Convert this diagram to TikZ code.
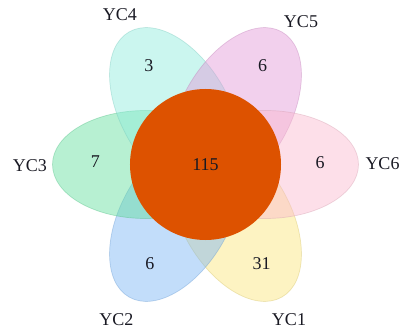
\documentclass[tikz,border=0pt]{standalone}
\usepackage{fontspec}
\setmainfont{Liberation Serif}
\usepackage{xcolor}
\usetikzlibrary{positioning,calc}

\definecolor{petalA}{RGB}{250,228,120}
\definecolor{petalB}{RGB}{120,180,245}
\definecolor{petalC}{RGB}{95,222,155}
\definecolor{petalD}{RGB}{140,235,220}
\definecolor{petalE}{RGB}{226,150,215}
\definecolor{petalF}{RGB}{250,185,206}
\definecolor{coreorange}{RGB}{221,82,0}
\definecolor{inktext}{RGB}{25,25,35}

\tikzset{
	petal/.style={line width=0.7pt, fill opacity=0.45, draw opacity=0.4},
	setlabel/.style={text=inktext, inner sep=1pt},
	count/.style={text=inktext, inner sep=1pt}
}

\begin{document}
\begin{tikzpicture}[x=1pt, y=1pt, font=\fontsize{18}{20}\selectfont]
			\useasboundingbox (-205.5,-164.5) rectangle (195.5,164.5);
			\coordinate (center) at (0,0);
			\def\dist{60}

			% petal centres
			\path (center) ++(-60:\dist) coordinate (P1);
			\path (center) ++(-120:\dist) coordinate (P2);
			\path (center) ++(180:\dist) coordinate (P3);
			\path (center) ++(120:\dist) coordinate (P4);
			\path (center) ++(60:\dist) coordinate (P5);
			\path (center) ++(0:\dist) coordinate (P6);

			% petals
			\draw[petal, draw=petalA!85!black, fill=petalA, rotate around={-60:(P1)}] (P1) ellipse [x radius=93pt, y radius=54pt];
			\draw[petal, draw=petalB!85!black, fill=petalB, rotate around={-120:(P2)}] (P2) ellipse [x radius=93pt, y radius=54pt];
			\draw[petal, draw=petalC!85!black, fill=petalC, rotate around={180:(P3)}] (P3) ellipse [x radius=93pt, y radius=54pt];
			\draw[petal, draw=petalD!85!black, fill=petalD, rotate around={120:(P4)}] (P4) ellipse [x radius=93pt, y radius=54pt];
			\draw[petal, draw=petalE!85!black, fill=petalE, rotate around={60:(P5)}] (P5) ellipse [x radius=93pt, y radius=54pt];
			\draw[petal, draw=petalF!85!black, fill=petalF, rotate around={0:(P6)}] (P6) ellipse [x radius=93pt, y radius=54pt];

			% shared core
			\node[circle, fill=coreorange, minimum size=151pt, inner sep=0pt, text=inktext] (core) at (center) {115};

			% counts
			\node[count] (n1) at (56,-99) {31};
			\node[count] (n2) at (-55.5,-99) {6};
			\node[count] (n3) at (-110,3) {7};
			\node[count] (n4) at (-56.5,98.5) {3};
			\node[count] (n5) at (57,98.5) {6};
			\node[count] (n6) at (114.5,2) {6};

			% set names
			\node[setlabel] (yc1) at (83.5,-155.5) {YC1};
			\node[setlabel] (yc2) at (-89,-155.5) {YC2};
			\node[setlabel] (yc3) at (-175.5,-1.5) {YC3};
			\node[setlabel] (yc4) at (-85.5,149.5) {YC4};
			\node[setlabel] (yc5) at (95.5,143) {YC5};
			\node[setlabel] (yc6) at (177,1) {YC6};

		\end{tikzpicture}
\end{document}
